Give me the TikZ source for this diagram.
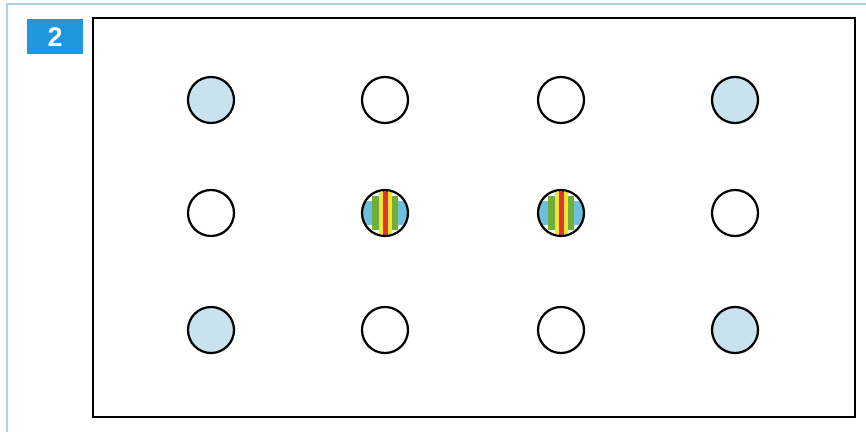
\documentclass[tikz,border=0pt]{standalone}
\usepackage{fontspec}
\usepackage{tikz}
\usetikzlibrary{calc}
\newfontfamily\labelfont{Liberation Sans}

\definecolor{frameblue}{RGB}{172,212,232}
\definecolor{labelblue}{RGB}{32,150,222}
\definecolor{padblue}{RGB}{200,226,238}
\definecolor{stripcyan}{RGB}{110,190,220}
\definecolor{stripgreen}{RGB}{110,175,60}
\definecolor{stripyellow}{RGB}{245,225,60}
\definecolor{stripred}{RGB}{225,55,40}

\tikzset{
  pad/.style={circle, draw=black, line width=1.9pt, minimum size=1.38cm, inner sep=0pt},
  padfill/.style={pad, fill=padblue},
  padled/.style={pad, fill=white, path picture={
      \foreach \a/\b/\h/\c in {-24/-13/12/stripcyan, -13/-6.5/17/stripgreen, -6.5/-2.5/21/stripyellow,
                               -2.5/2.5/24/stripred, 2.5/6.5/21/stripyellow, 6.5/13/17/stripgreen, 13/24/12/stripcyan}
        \fill[\c]
          ($(path picture bounding box.center)+(\a*0.03cm,-\h*0.03cm)$) rectangle
          ($(path picture bounding box.center)+(\b*0.03cm,\h*0.03cm)$);
  }},
  numbox/.style={fill=labelblue, text=white, font=\labelfont\bfseries\fontsize{23}{23}\selectfont,
                 minimum width=1.68cm, minimum height=1.05cm, inner sep=0pt}
}

\begin{document}
\begin{tikzpicture}[x=0.03cm, y=-0.03cm]
                \useasboundingbox (0,0) rectangle (866,432);
                % outer frame of the figure
                \draw[frameblue, line width=1.5pt] (7,432) -- (7,4) -- (866,4);
                \node[numbox] (num) at (55,37) {2};
                % board outline
                \draw[black, line width=2.2pt] (93,18) rectangle (855,417);
                % top row
                \node[padfill] (p11) at (211,100) {};
                \node[pad]     (p12) at (385,100) {};
                \node[pad]     (p13) at (561,100) {};
                \node[padfill] (p14) at (735,100) {};
                % middle row
                \node[pad]     (p21) at (211,213) {};
                \node[padled]  (p22) at (385,213) {};
                \node[padled]  (p23) at (561,213) {};
                \node[pad]     (p24) at (735,213) {};
                % bottom row
                \node[padfill] (p31) at (211,330) {};
                \node[pad]     (p32) at (385,330) {};
                \node[pad]     (p33) at (561,330) {};
                \node[padfill] (p34) at (735,330) {};
\end{tikzpicture}
\end{document}
